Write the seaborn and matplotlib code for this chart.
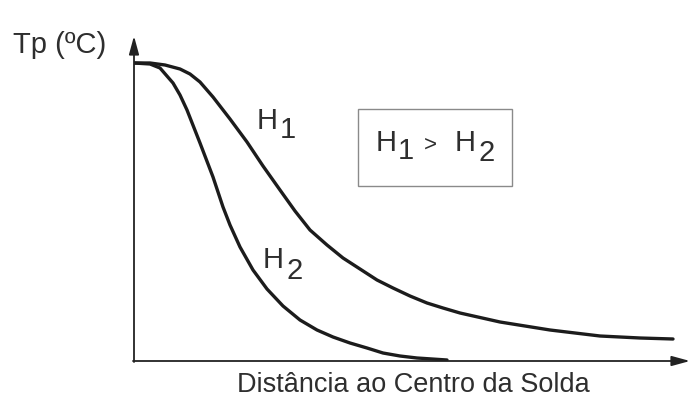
import numpy as np
import pandas as pd
import matplotlib
matplotlib.use("Agg")
import matplotlib.pyplot as plt
import seaborn as sns
from matplotlib.patches import Rectangle

# curves (distance, peak temperature), arbitrary units
h1_dist = [0, 16, 31, 46, 56, 66, 79, 96, 113, 129, 146, 161, 176, 193, 209,
           226, 243, 259, 276, 293, 309, 326, 366, 416, 466, 506, 539]
h1_temp = [298, 298, 296, 292, 287, 279, 264, 242, 219, 195, 171, 150, 131, 116, 103,
           92, 81, 73, 65, 58, 53, 48, 39, 31, 25, 23, 22]
h2_dist = [0, 16, 26, 39, 46, 53, 66, 79, 89, 96, 106, 119, 133, 149, 166,
           183, 199, 216, 233, 249, 266, 283, 313]
h2_temp = [298, 297, 293, 278, 266, 251, 218, 184, 154, 136, 114, 91, 72, 55, 41,
           31, 24, 18, 13, 8, 5, 3, 1]

x_label = "Distância ao Centro da Solda"
y_label = "Tp (ºC)"

df = pd.concat([
    pd.DataFrame({"dist": h1_dist, "temp": h1_temp, "curve": "H1"}),
    pd.DataFrame({"dist": h2_dist, "temp": h2_temp, "curve": "H2"}),
])

sns.set_style("white")
plt.rcParams["font.family"] = ["Liberation Sans", "DejaVu Sans"]

fig = plt.figure(figsize=(6.9, 3.99), dpi=100)
ax = fig.add_axes([134 / 690, 38 / 399, 556 / 690, 323 / 399])

sns.lineplot(
    data=df,
    x="dist",
    y="temp",
    units="curve",
    estimator=None,
    sort=False,
    color="#1c1c1c",
    linewidth=2.4,
    ax=ax,
)
for line in ax.get_lines():
    line.set_solid_joinstyle("round")
    line.set_solid_capstyle("round")

ax.set_xlim(0, 556)
ax.set_ylim(0, 323)
ax.set_axis_off()

# axes drawn as arrows
arrow = dict(arrowstyle="-|>,head_length=1.1,head_width=0.3",
             color="#222222", lw=1.3, shrinkA=0, shrinkB=0)
ax.annotate("", xy=(0, 325), xytext=(0, -1), arrowprops=arrow,
            annotation_clip=False)
ax.annotate("", xy=(556, 0), xytext=(-1, 0), arrowprops=arrow,
            annotation_clip=False)

txt = "#2e2e2e"
ax.text(-121, 316, y_label, fontsize=21, color=txt, va="center", ha="left")
ax.text(279, -24, x_label, fontsize=19.5, color=txt, va="center", ha="center")

# curve labels
ax.text(123, 240, "H", fontsize=21, color=txt, va="center")
ax.text(146, 231, "1", fontsize=21, color=txt, va="center")
ax.text(129, 101, "H", fontsize=21, color=txt, va="center")
ax.text(153, 90, "2", fontsize=21, color=txt, va="center")

# boxed note
ax.add_patch(Rectangle((224, 175), 154, 77, fill=False,
                       edgecolor="#8a8a8a", lw=1.0))
ax.text(242, 218, "H", fontsize=21, color=txt, va="center")
ax.text(264, 210, "1", fontsize=21, color=txt, va="center")
ax.text(290, 216, ">", fontsize=16, color=txt, va="center")
ax.text(321, 218, "H", fontsize=21, color=txt, va="center")
ax.text(344, 208, "2", fontsize=21, color=txt, va="center")

fig.savefig("out.png", dpi=100)
